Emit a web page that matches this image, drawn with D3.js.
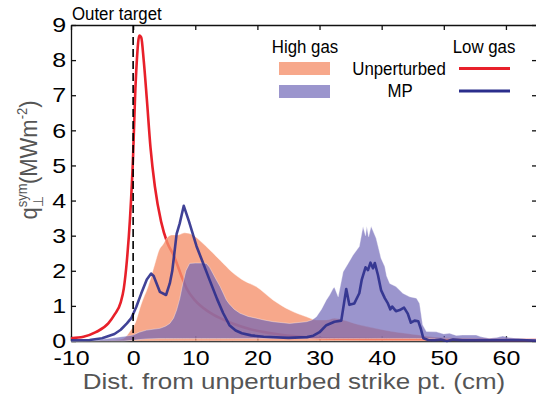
<!DOCTYPE html>
<html>
<head>
<meta charset="utf-8">
<script src="https://cdn.jsdelivr.net/npm/d3@7"></script>
<style>
  body { margin: 0; background: #fff; }
  svg { display: block; font-family: "Liberation Sans", Arial, sans-serif; }
</style>
</head>
<body>
<div id="chart"></div>
<script>
// Low gas, unperturbed (red line)
const redX = [-10, -8, -6, -4, -3, -2, -1.5, -1, -0.5, 0, 0.3, 0.6, 1.0, 1.3, 1.7, 2.2, 2.8, 3.5, 4.5, 5.5, 6.5, 8, 8.6, 10, 12, 14, 16, 19, 23, 27, 30, 35, 40, 50, 60, 65];
const redY = [0.08, 0.12, 0.25, 0.5, 0.75, 1.1, 1.5, 2.3, 3.5, 5.3, 6.9, 8.0, 8.7, 8.65, 8.0, 6.9, 5.5, 4.4, 3.4, 2.8, 2.45, 1.75, 1.5, 1.15, 0.85, 0.65, 0.5, 0.33, 0.2, 0.12, 0.08, 0.06, 0.05, 0.04, 0.03, 0.03];

// Low gas, MP (blue line)
const blueX = [-10, -7, -5, -3, -2, -1, -0.3, 0.5, 1.3, 2.2, 2.9, 3.3, 4.3, 5.3, 5.9, 6.3, 7.0, 7.5, 8.15, 9, 10.2, 11.3, 12.3, 13.5, 14.5, 15.5, 16.5, 17.5, 19, 21, 25, 28, 29, 30, 31.1, 32.4, 33.5, 34.3, 34.8, 35.6, 36.4, 36.8, 37.4, 37.8, 38.2, 38.6, 38.9, 39.4, 39.9, 40.5, 41, 41.4, 41.7, 42.3, 42.9, 43.6, 44.2, 44.7, 45.3, 45.9, 46.3, 46.7, 47.5, 48.5, 49.5, 50.5, 51.5, 53, 56, 60, 62, 65];
const blueY = [0.02, 0.03, 0.08, 0.2, 0.32, 0.5, 0.65, 0.97, 1.35, 1.75, 1.92, 1.85, 1.4, 1.31, 1.64, 2.0, 3.05, 3.35, 3.85, 3.4, 2.7, 2.2, 1.74, 1.2, 0.79, 0.45, 0.3, 0.22, 0.16, 0.12, 0.09, 0.11, 0.15, 0.25, 0.45, 0.55, 0.58, 1.48, 1.03, 1.07, 1.36, 1.75, 2.1, 2.02, 2.23, 2.07, 2.22, 1.88, 1.45, 1.22, 1.07, 0.9, 0.98, 0.85, 0.88, 0.95, 0.78, 0.52, 0.58, 0.56, 0.35, 0.08, 0.03, 0.02, 0.04, 0.0, 0.04, 0.02, 0.02, 0.02, 0.03, 0.01];

// High gas, unperturbed (orange band)
const orangeX = [-10, -4, -2, -1.3, -0.5, 0.3, 1.3, 2.4, 3.5, 4.2, 4.8, 5.5, 6.2, 7.2, 8.3, 9.6, 11, 12.3, 14, 16, 18, 19.8, 22.5, 25.2, 27.9, 29.5, 31.1, 32.4, 33.8, 36.4, 39, 41.7, 46, 48, 50, 55, 60, 65];
const orangeHi = [0.0, 0.02, 0.05, 0.1, 0.28, 0.5, 1.05, 1.55, 2.2, 2.6, 2.75, 2.95, 3.02, 3.02, 3.08, 3.02, 2.82, 2.6, 2.3, 1.95, 1.7, 1.55, 1.17, 0.88, 0.69, 0.6, 0.6, 0.65, 0.6, 0.46, 0.36, 0.27, 0.17, 0.12, 0.1, 0.08, 0.07, 0.05];

// High gas, MP (purple band)
const purpleX = [-10, -6, -3.7, -1.5, 0, 1, 2.15, 4.3, 5.2, 5.9, 6.5, 7, 7.5, 8, 8.5, 9.1, 10, 11, 11.8, 12.3, 13.4, 14, 15, 15.5, 16.3, 17.2, 18.5, 19.8, 21, 22.5, 25.2, 27.9, 28.8, 29.5, 30.3, 31.1, 31.6, 32.2, 32.4, 33, 33.8, 34.6, 35.4, 36.4, 37, 37.4, 37.6, 37.9, 38.3, 39.1, 39.9, 40.5, 40.8, 41.3, 42.3, 43.4, 44.5, 45.6, 46.1, 46.6, 47.2, 48.8, 50, 50.9, 52, 53, 55.2, 56, 57.3, 58.5, 59.5, 60.5, 61.6, 63.7, 65];
const purpleHi = [0.0, 0.02, 0.08, 0.13, 0.17, 0.25, 0.31, 0.36, 0.42, 0.5, 0.65, 0.88, 1.2, 1.64, 2.0, 2.21, 2.22, 2.22, 2.21, 2.1, 1.74, 1.55, 1.17, 1.05, 0.9, 0.79, 0.7, 0.65, 0.6, 0.55, 0.5, 0.55, 0.6, 0.69, 0.9, 1.17, 1.3, 1.5, 1.53, 1.26, 1.97, 2.21, 2.45, 2.69, 3.26, 3.0, 3.27, 2.97, 3.27, 2.93, 2.36, 2.12, 1.85, 1.64, 1.55, 1.36, 1.26, 1.22, 1.07, 0.46, 0.27, 0.26, 0.2, 0.22, 0.16, 0.17, 0.17, 0.12, 0.08, 0.1, 0.14, 0.1, 0.08, 0.05, 0.04];
const purpleLo = [0.0, 0.0, 0.0, 0.0, 0.02, 0.04, 0.06, 0.07, 0.07, 0.07, 0.07, 0.07, 0.07, 0.07, 0.07, 0.07, 0.07, 0.07, 0.07, 0.07, 0.07, 0.07, 0.07, 0.07, 0.07, 0.07, 0.07, 0.07, 0.07, 0.07, 0.07, 0.07, 0.07, 0.07, 0.07, 0.07, 0.07, 0.07, 0.07, 0.07, 0.07, 0.07, 0.07, 0.07, 0.07, 0.07, 0.07, 0.07, 0.07, 0.07, 0.07, 0.07, 0.07, 0.07, 0.07, 0.07, 0.07, 0.07, 0.07, 0.07, 0.07, 0.06, 0.06, 0.06, 0.05, 0.05, 0.05, 0.04, 0.04, 0.03, 0.03, 0.03, 0.03, 0.03, 0.03];

const xTicks = [-10, 0, 10, 20, 30, 40, 50, 60];
const yTicks = [0, 1, 2, 3, 4, 5, 6, 7, 8, 9];
const legendHeads = ['High gas', 'Low gas'];
const legendRows = ['Unperturbed', 'MP'];
const xTitle = 'Dist. from unperturbed strike pt. (cm)';
const cornerNote = 'Outer target';

const W = 536, H = 401;
const svg = d3.select('#chart').append('svg')
    .attr('width', W).attr('height', H);

const x = d3.scaleLinear().domain([-10, 65]).range([71, 537]);
const y = d3.scaleLinear().domain([0, 9]).range([341, 25]);

const pts = (xs, ys) => xs.map((v, i) => ({x: v, y: ys[i]}));

// frame + ticks (inward)
function axes() {
    const bottom = svg.append('g').attr('transform', `translate(0,${y(0)})`)
        .call(d3.axisBottom(x).tickValues(xTicks).tickSize(-5).tickSizeOuter(0).tickPadding(9)
            .tickFormat(d => String(d)));
    const left = svg.append('g').attr('transform', `translate(${x(-10)},0)`)
        .call(d3.axisLeft(y).tickValues(yTicks).tickSize(-5).tickSizeOuter(0).tickPadding(4)
            .tickFormat(d => String(d)));
    svg.append('g').attr('transform', `translate(0,${y(9)})`)
        .call(d3.axisTop(x).tickValues(xTicks).tickSize(-5).tickSizeOuter(0).tickFormat(''));
    svg.append('g').attr('transform', `translate(${x(65)},0)`)
        .call(d3.axisRight(y).tickValues(yTicks).tickSize(-5).tickSizeOuter(0).tickFormat(''));
    svg.selectAll('.domain, .tick line').attr('stroke', '#111').attr('stroke-width', 1.3);
    [bottom, left].forEach(g => g.selectAll('text')
        .attr('font-size', 21).attr('fill', '#000')
        .attr('font-family', 'Liberation Sans, Arial, sans-serif')
        .attr('transform', 'scale(1.19,1)'));
}
axes();

// red line first, bands drawn over it
const line = d3.line().x(d => x(d.x)).y(d => y(d.y));
svg.append('path').datum(pts(redX, redY))
    .attr('d', line.curve(d3.curveMonotoneX))
    .attr('fill', 'none').attr('stroke', '#E8202A').attr('stroke-width', 2.6);

const orangeArea = d3.area().x(d => x(d.x)).y0(y(0)).y1(d => y(d.y)).curve(d3.curveMonotoneX);
svg.append('path').datum(pts(orangeX, orangeHi))
    .attr('d', orangeArea)
    .attr('fill', '#F5926E').attr('fill-opacity', 0.8)
    .attr('stroke', '#fff').attr('stroke-opacity', 0.4).attr('stroke-width', 1);

const purpleArea = d3.area().x(d => x(d.x)).y0(d => y(d.lo)).y1(d => y(d.y));
svg.append('path').datum(purpleX.map((v, i) => ({x: v, y: purpleHi[i], lo: purpleLo[i]})))
    .attr('d', purpleArea)
    .attr('fill', '#6C63B5').attr('fill-opacity', 0.68)
    .attr('stroke', '#fff').attr('stroke-opacity', 0.35).attr('stroke-width', 1);

svg.append('path').datum(pts(blueX, blueY))
    .attr('d', d3.line().x(d => x(d.x)).y(d => y(d.y)))
    .attr('fill', 'none').attr('stroke', '#2B2E8C').attr('stroke-width', 2.6)
    .attr('stroke-opacity', 0.9).attr('stroke-linejoin', 'round');

// separatrix marker at x = 0
svg.append('line')
    .attr('x1', x(0)).attr('x2', x(0)).attr('y1', y(9)).attr('y2', y(0))
    .attr('stroke', '#000').attr('stroke-width', 1.6).attr('stroke-dasharray', '8,4');

// texts
function label(tx, ty, txt, size, sx, anchor, color) {
    return svg.append('text')
        .attr('transform', `translate(${tx},${ty}) scale(${sx},1)`)
        .attr('text-anchor', anchor).attr('font-size', size)
        .attr('fill', color || '#000').text(txt);
}
label(72, 20, cornerNote, 18.5, 0.91, 'start');
label(294, 389, xTitle, 22, 1.18, 'middle', '#555');

// y title, rotated, with stacked super/subscript
const yt = svg.append('g').attr('transform', 'translate(37,160) scale(1.1,1) rotate(-90)');
const ytxt = yt.append('text').attr('fill', '#555').attr('font-size', 22).attr('text-anchor', 'middle');
ytxt.append('tspan').text('q');
ytxt.append('tspan').attr('font-size', 13).attr('dy', -9).text('sym');
ytxt.append('tspan').attr('font-size', 13).attr('dx', -24).attr('dy', 14).text('\u22A5');
ytxt.append('tspan').attr('font-size', 22).attr('dx', 12).attr('dy', -5).text('(MWm');
ytxt.append('tspan').attr('font-size', 13).attr('dy', -9).text('-2');
ytxt.append('tspan').attr('font-size', 22).attr('dy', 9).text(')');

// legend
label(305, 53, legendHeads[0], 18.5, 0.91, 'middle');
label(484, 53, legendHeads[1], 18.5, 0.91, 'middle');
label(399, 75, legendRows[0], 18.5, 0.91, 'middle');
label(400, 97, legendRows[1], 18.5, 0.91, 'middle');
svg.append('rect').attr('x', 279).attr('y', 62).attr('width', 51).attr('height', 13)
    .attr('fill', '#F5926E').attr('fill-opacity', 0.8);
svg.append('rect').attr('x', 279).attr('y', 85).attr('width', 51).attr('height', 13)
    .attr('fill', '#6C63B5').attr('fill-opacity', 0.68);
svg.append('line').attr('x1', 459).attr('x2', 510).attr('y1', 68.5).attr('y2', 68.5)
    .attr('stroke', '#E8202A').attr('stroke-width', 3);
svg.append('line').attr('x1', 459).attr('x2', 510).attr('y1', 91).attr('y2', 91)
    .attr('stroke', '#2B2E8C').attr('stroke-width', 3);
</script>
</body>
</html>
